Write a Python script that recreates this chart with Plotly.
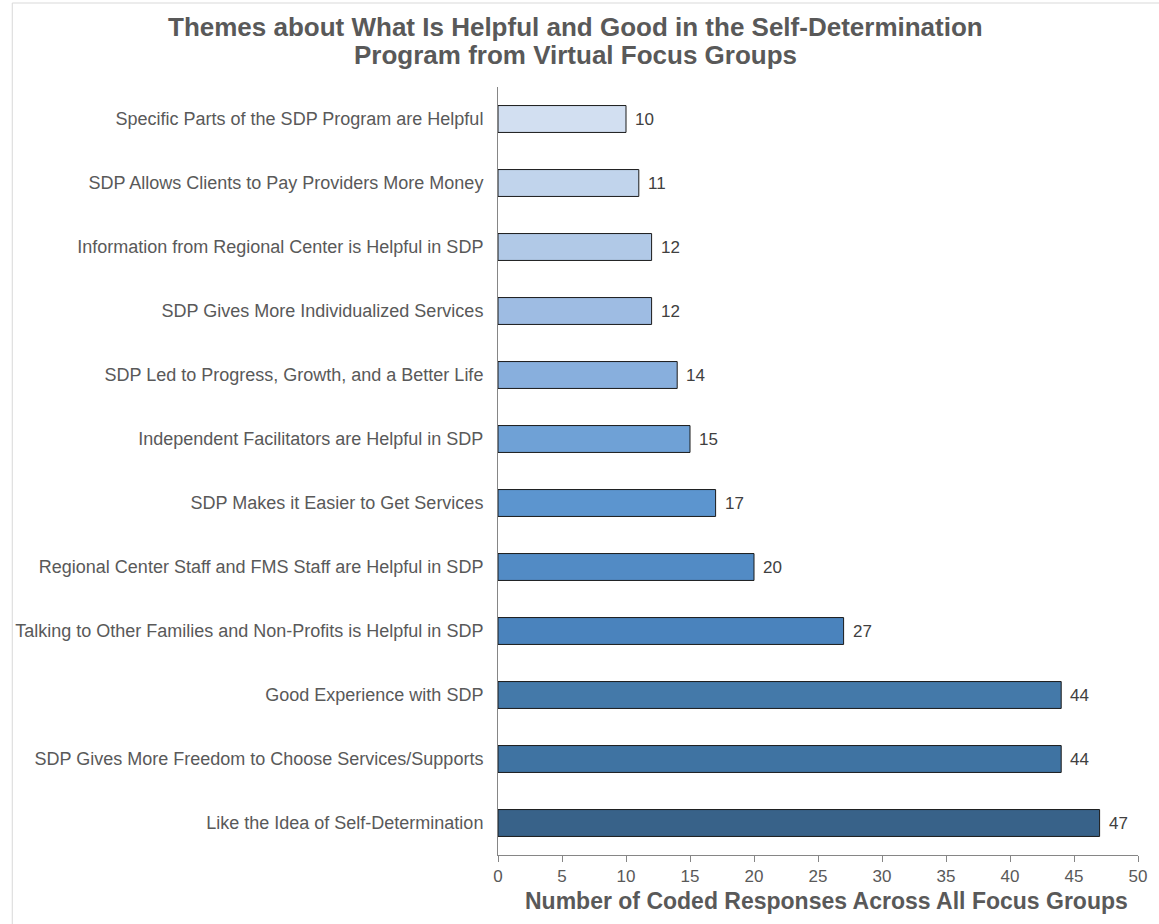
import plotly.graph_objects as go

categories = [
    "Specific Parts of the SDP Program are Helpful",
    "SDP Allows Clients to Pay Providers More Money",
    "Information from Regional Center is Helpful in SDP",
    "SDP Gives More Individualized Services",
    "SDP Led to Progress, Growth, and a Better Life",
    "Independent Facilitators are Helpful in SDP",
    "SDP Makes it Easier to Get Services",
    "Regional Center Staff and FMS Staff are Helpful in SDP",
    "Talking to Other Families and Non-Profits is Helpful in SDP",
    "Good Experience with SDP",
    "SDP Gives More Freedom to Choose Services/Supports",
    "Like the Idea of Self-Determination",
]
values = [10, 11, 12, 12, 14, 15, 17, 20, 27, 44, 44, 47]
colors = ["#D2DFF1", "#C1D4EC", "#B1C9E7", "#9EBCE3", "#88AFDD", "#6FA1D6",
          "#5C95CF", "#528BC5", "#4A83BD", "#4479A9", "#3F73A2", "#386289"]
x_ticks = [0, 5, 10, 15, 20, 25, 30, 35, 40, 45, 50]
title_lines = ["Themes about What Is Helpful and Good in the Self-Determination",
               "Program from Virtual Focus Groups"]
x_title = "Number of Coded Responses Across All Focus Groups"

FONT = "Liberation Sans, Arial, sans-serif"

fig = go.Figure(go.Bar(
    x=values, y=categories, orientation="h",
    marker=dict(color=colors, line=dict(color="#1a1a1a", width=1)),
    width=0.42,
    cliponaxis=False,
))

# value labels
for v, c in zip(values, categories):
    fig.add_annotation(x=v, y=c, text=str(v), xref="x", yref="y",
                       xanchor="left", yanchor="middle", xshift=7, showarrow=False,
                       font=dict(family=FONT, size=17, color="#404040"))

W, H = 1159, 924
L, R, T, B = 498, 18, 87, 69
pw, ph = W - L - R, H - T - B

def py(pix):
    # convert pixel row from top of page to paper y
    return (T + ph - pix) / ph

def px(pix):
    return (pix - L) / pw

fig.update_layout(
    width=W, height=H,
    margin=dict(l=L, r=R, t=T, b=B),
    paper_bgcolor="white", plot_bgcolor="white",
    showlegend=False,
    font=dict(family=FONT, color="#595959"),
    xaxis=dict(
        range=[0, 50], tickvals=x_ticks, showgrid=False, zeroline=False,
        showline=True, linecolor="#868686", linewidth=1,
        ticks="outside", ticklen=6, tickcolor="#868686",
        tickfont=dict(family=FONT, size=17, color="#595959"),
    ),
    yaxis=dict(
        autorange="reversed", showgrid=False, zeroline=False,
        showline=True, linecolor="#868686", linewidth=1,
        ticks="", ticklabelstandoff=10,
        tickfont=dict(family=FONT, size=18, color="#595959"),
    ),
)

# title as two centred lines
for text, cy in zip(title_lines, [27, 55]):
    fig.add_annotation(x=px(576), y=py(cy), xref="paper", yref="paper",
                       text="<b>" + text + "</b>", showarrow=False,
                       xanchor="center", yanchor="middle",
                       font=dict(family=FONT, size=26, color="#595959"))

# x-axis title
fig.add_annotation(x=px(828), y=py(901), xref="paper", yref="paper",
                   text="<b>" + x_title + "</b>", showarrow=False,
                   xanchor="center", yanchor="middle",
                   font=dict(family=FONT, size=23, color="#595959"))

# light outer border of the chart frame
fig.add_shape(type="rect", xref="paper", yref="paper",
              x0=px(10), x1=px(W + 5), y0=py(H + 5), y1=py(3),
              line=dict(color="#d9d9d9", width=1), fillcolor="rgba(0,0,0,0)", layer="below")

fig.write_html("out.html")
